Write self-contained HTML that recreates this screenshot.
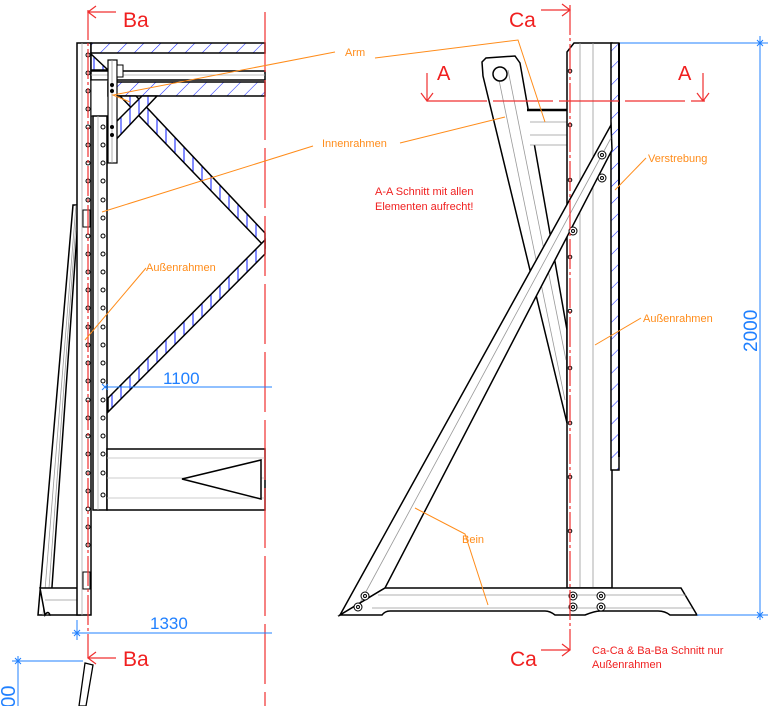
<!DOCTYPE html>
<html><head><meta charset="utf-8"><style>
html,body{margin:0;padding:0;background:#fff;width:768px;height:706px;overflow:hidden}
svg{display:block}
text{font-family:"Liberation Sans",sans-serif}
</style></head><body>
<svg width="768" height="706" viewBox="0 0 768 706" xmlns="http://www.w3.org/2000/svg">
<defs>
<pattern id="h1" width="12" height="12" patternUnits="userSpaceOnUse" patternTransform="rotate(45)">
<rect width="12" height="12" fill="#fff"/><line x1="0" y1="0" x2="0" y2="12" stroke="#2030ff" stroke-width="1.1"/></pattern>
<pattern id="h2" width="9" height="9" patternUnits="userSpaceOnUse">
<rect width="9" height="9" fill="#fff"/><line x1="4" y1="0" x2="4" y2="9" stroke="#2030ff" stroke-width="1.1"/></pattern>
</defs>

<!-- LEFT VIEW -->
<g stroke="#000" stroke-width="1.5" fill="none">
<polygon points="73,205 79,205 50,615 38,615" fill="#fff"/>
<line x1="76" y1="205" x2="43" y2="615" stroke="#999" stroke-width="0.8"/>
<line x1="77" y1="210" x2="47" y2="615" stroke="#999" stroke-width="0.8"/>
<path d="M40,588 H80 V615 H50 Q48,610 45,615 Z" fill="#fff"/>
<line x1="45" y1="600" x2="80" y2="600" stroke="#999" stroke-width="0.8"/>
<rect x="77" y="43" width="14" height="572" fill="#fff"/>
<line x1="82" y1="43" x2="82" y2="615" stroke="#aaa" stroke-width="0.8"/>
<rect x="83" y="572" width="7" height="17" fill="#fff" stroke-width="1"/>
<rect x="83" y="210" width="7" height="17" fill="#fff" stroke-width="1"/>
<rect x="91" y="43" width="174" height="10" fill="url(#h1)"/>
<rect x="91" y="71" width="174" height="9" fill="#fff"/>
<line x1="91" y1="75" x2="265" y2="75" stroke="#aaa" stroke-width="0.8"/>
<rect x="91" y="80" width="17" height="36" fill="#fff" stroke-width="1"/>
<rect x="108" y="82" width="157" height="14" fill="url(#h1)"/>
<polygon points="120,96 136,96 265,233 265,247 " fill="url(#h2)"/>
<polygon points="265,240 265,254 108,412 108,398" fill="url(#h2)"/>
<polygon points="108,130 142,96 157,96 108,148" fill="url(#h2)"/>
<polygon points="91,54 108,70 91,70" fill="url(#h2)"/>
<rect x="108" y="60" width="9" height="103" fill="#fff" stroke-width="1.2"/>
<line x1="112" y1="60" x2="112" y2="163" stroke="#999" stroke-width="0.8"/>
<rect x="117" y="65" width="6" height="12" fill="#fff" stroke-width="1"/>
<rect x="93" y="116" width="14" height="394" fill="#fff"/>
<line x1="98" y1="116" x2="98" y2="510" stroke="#aaa" stroke-width="0.8"/>
<rect x="107" y="449" width="158" height="61" fill="#fff"/>
<g stroke="#bbb" stroke-width="0.8"><line x1="107" y1="458" x2="265" y2="458"/><line x1="107" y1="478" x2="265" y2="478"/><line x1="107" y1="498" x2="265" y2="498"/></g>
<polygon points="182,479 261,460 261,499" fill="#fff"/>
</g>
<g fill="#fff" stroke="#000" stroke-width="1">
<circle cx="88" cy="55" r="2"/><circle cx="88" cy="73" r="2"/><circle cx="88" cy="91" r="2"/><circle cx="88" cy="109" r="2"/><circle cx="88" cy="127" r="2"/><circle cx="88" cy="145" r="2"/><circle cx="88" cy="163" r="2"/><circle cx="88" cy="181" r="2"/><circle cx="88" cy="200" r="2"/><circle cx="88" cy="236" r="2"/><circle cx="88" cy="254" r="2"/><circle cx="88" cy="272" r="2"/><circle cx="88" cy="290" r="2"/><circle cx="88" cy="308" r="2"/><circle cx="88" cy="327" r="2"/><circle cx="88" cy="345" r="2"/><circle cx="88" cy="363" r="2"/><circle cx="88" cy="381" r="2"/><circle cx="88" cy="400" r="2"/><circle cx="88" cy="418" r="2"/><circle cx="88" cy="436" r="2"/><circle cx="88" cy="454" r="2"/><circle cx="88" cy="473" r="2"/><circle cx="88" cy="491" r="2"/><circle cx="88" cy="509" r="2"/><circle cx="88" cy="527" r="2"/><circle cx="88" cy="545" r="2"/>
<circle cx="103" cy="127" r="2"/><circle cx="103" cy="145" r="2"/><circle cx="103" cy="163" r="2"/><circle cx="103" cy="181" r="2"/><circle cx="103" cy="200" r="2"/><circle cx="103" cy="218" r="2"/><circle cx="103" cy="236" r="2"/><circle cx="103" cy="254" r="2"/><circle cx="103" cy="272" r="2"/><circle cx="103" cy="290" r="2"/><circle cx="103" cy="308" r="2"/><circle cx="103" cy="327" r="2"/><circle cx="103" cy="345" r="2"/><circle cx="103" cy="363" r="2"/><circle cx="103" cy="381" r="2"/><circle cx="103" cy="400" r="2"/><circle cx="103" cy="418" r="2"/><circle cx="103" cy="436" r="2"/><circle cx="103" cy="454" r="2"/><circle cx="103" cy="473" r="2"/><circle cx="103" cy="495" r="2"/>
</g>
<g fill="#000"><circle cx="112" cy="85" r="2"/><circle cx="112" cy="91" r="2"/><circle cx="112" cy="127" r="2"/><circle cx="112" cy="135" r="2"/></g>
<g stroke="#f03030" fill="none" stroke-width="1.2">
<line x1="88" y1="10" x2="88" y2="658" stroke-dasharray="30,3,3,3"/>
<line x1="265" y1="12" x2="265" y2="706" stroke-dasharray="60,8"/>
<path d="M88,12 H116 M96,6 L88,12 L96,18"/>
<path d="M88,658 H116 M96,652 L88,658 L96,664"/>
</g>
<text x="123" y="27" font-size="21" fill="#f02020">Ba</text>
<text x="123" y="666" font-size="21" fill="#f02020">Ba</text>
<g stroke="#2080ff" stroke-width="1" fill="none">
<line x1="105" y1="387" x2="272" y2="387"/><path d="M102,384 l6,6 M108,384 l-6,6"/>
<line x1="72" y1="633" x2="272" y2="633"/><line x1="77" y1="620" x2="77" y2="640"/><path d="M74,630 l6,6 M80,630 l-6,6"/>
<line x1="12" y1="661" x2="83" y2="661"/><line x1="18" y1="656" x2="18" y2="706"/><path d="M15,658 l6,6 M21,658 l-6,6"/>
</g>
<text x="163" y="384" font-size="17" fill="#2080ff">1100</text>
<text x="150" y="629" font-size="17" fill="#2080ff">1330</text>
<text transform="translate(15,730) rotate(-90)" font-size="20" fill="#2080ff">2000</text>
<polygon points="85,663 93,665 86,706 79,706" fill="#fff" stroke="#000" stroke-width="1.3"/>

<!-- RIGHT VIEW -->
<g stroke="#000" stroke-width="1.5" fill="none">
<polygon points="482,62 486,58 515,56 520,63 567,330 567,423 483,76" fill="#fff"/>
<line x1="499" y1="80" x2="565" y2="400" stroke="#999" stroke-width="0.8"/>
<line x1="508" y1="70" x2="566" y2="360" stroke="#999" stroke-width="0.8"/>
<circle cx="500" cy="74" r="7" fill="#fff"/>
<rect x="527" y="110" width="40" height="35" fill="#fff" stroke="none"/>
<line x1="527" y1="110" x2="567" y2="110" stroke-width="2.5"/>
<line x1="530" y1="122" x2="567" y2="122" stroke="#999" stroke-width="0.8"/>
<line x1="530" y1="135" x2="567" y2="135" stroke="#999" stroke-width="0.8"/>
<line x1="530" y1="145" x2="567" y2="145" stroke="#999" stroke-width="0.8"/>
<path d="M567,52 L574,43 H612 V588 H567 Z" fill="#fff"/>
<line x1="580" y1="43" x2="580" y2="588" stroke="#999" stroke-width="0.8"/>
<line x1="593" y1="43" x2="593" y2="588" stroke="#999" stroke-width="0.8"/>
<rect x="611" y="43" width="8" height="427" fill="url(#h1)"/>
<line x1="619" y1="43" x2="619" y2="457" stroke-width="2"/>
<polygon points="611,125 612,150 385,588 340,615" fill="#fff"/>
<line x1="611" y1="138" x2="355" y2="612" stroke="#999" stroke-width="0.8"/>
<path d="M385,588 H681 L697,615 H670 Q665,611 658,611 H600 Q595,611 585,615 H555 Q550,611 545,611 H390 Q385,611 382,615 H340 Z" fill="#fff"/>
<line x1="378" y1="595" x2="686" y2="595" stroke="#999" stroke-width="0.8"/>
<line x1="372" y1="608" x2="692" y2="608" stroke="#999" stroke-width="0.8"/>
</g>
<g stroke="#000" stroke-width="1" fill="#fff">
<circle cx="365" cy="596" r="4"/><circle cx="365" cy="596" r="1.5"/>
<circle cx="358" cy="607" r="4"/><circle cx="358" cy="607" r="1.5"/>
<circle cx="573" cy="596" r="4"/><circle cx="573" cy="596" r="1.5"/>
<circle cx="573" cy="607" r="4"/><circle cx="573" cy="607" r="1.5"/>
<circle cx="601" cy="596" r="4"/><circle cx="601" cy="596" r="1.5"/>
<circle cx="601" cy="607" r="4"/><circle cx="601" cy="607" r="1.5"/>
<circle cx="602" cy="155" r="4"/><circle cx="602" cy="155" r="1.5"/>
<circle cx="602" cy="178" r="4"/><circle cx="602" cy="178" r="1.5"/>
<circle cx="573" cy="231" r="4"/><circle cx="573" cy="231" r="1.5"/>
<circle cx="570" cy="71" r="1.8"/><circle cx="570" cy="125" r="1.8"/><circle cx="570" cy="180" r="1.8"/><circle cx="570" cy="257" r="1.8"/><circle cx="570" cy="311" r="1.8"/><circle cx="570" cy="368" r="1.8"/><circle cx="570" cy="423" r="1.8"/><circle cx="570" cy="477" r="1.8"/><circle cx="570" cy="531" r="1.8"/>
</g>
<g stroke="#f03030" fill="none" stroke-width="1.2">
<line x1="570" y1="5" x2="570" y2="650" stroke-dasharray="30,3,3,3"/>
<path d="M541,10 H570 M562,4 L570,10 L562,16"/>
<path d="M541,650 H570 M562,644 L570,650 L562,656"/>
<line x1="427" y1="101" x2="705" y2="101" stroke-dasharray="60,6"/>
<path d="M427,73 V101 M421,93 L427,101 L433,93"/>
<path d="M703,73 V101 M697,93 L703,101 L709,93"/>
</g>
<text x="509" y="27" font-size="21" fill="#f02020">Ca</text>
<text x="510" y="666" font-size="21" fill="#f02020">Ca</text>
<text x="437" y="80" font-size="20" fill="#f02020">A</text>
<text x="678" y="80" font-size="20" fill="#f02020">A</text>
<text x="375" y="195" font-size="11" fill="#f02020">A-A Schnitt mit allen</text>
<text x="375" y="210" font-size="11" fill="#f02020">Elementen aufrecht!</text>
<text x="592" y="654" font-size="11" fill="#f02020">Ca-Ca &amp; Ba-Ba Schnitt nur</text>
<text x="592" y="668" font-size="11" fill="#f02020">Außenrahmen</text>
<g stroke="#2080ff" stroke-width="1" fill="none">
<line x1="620" y1="43" x2="768" y2="43"/><line x1="697" y1="615" x2="768" y2="615"/>
<line x1="760" y1="36" x2="760" y2="620"/>
<path d="M757,40 l6,6 M763,40 l-6,6 M757,612 l6,6 M763,612 l-6,6"/>
</g>
<text transform="translate(757,352) rotate(-90)" font-size="19" fill="#2080ff">2000</text>
<g stroke="#ff8c1a" stroke-width="1" fill="none">
<path d="M335,52 L113,95 L130,102"/>
<path d="M375,58 L518,40 L545,122"/>
<path d="M313,146 L102,212"/>
<path d="M400,143 L505,117"/>
<path d="M146,268 L85,340"/>
<path d="M646,158 L615,190"/>
<path d="M641,318 L595,345"/>
<path d="M415,508 L465,534 L488,605"/>
</g>
<g fill="#ff8c1a" font-size="11">
<text x="345" y="56">Arm</text>
<text x="322" y="147">Innenrahmen</text>
<text x="146" y="271">Außenrahmen</text>
<text x="648" y="162">Verstrebung</text>
<text x="643" y="322">Außenrahmen</text>
<text x="462" y="543">Bein</text>
</g>
</svg>
</body></html>
